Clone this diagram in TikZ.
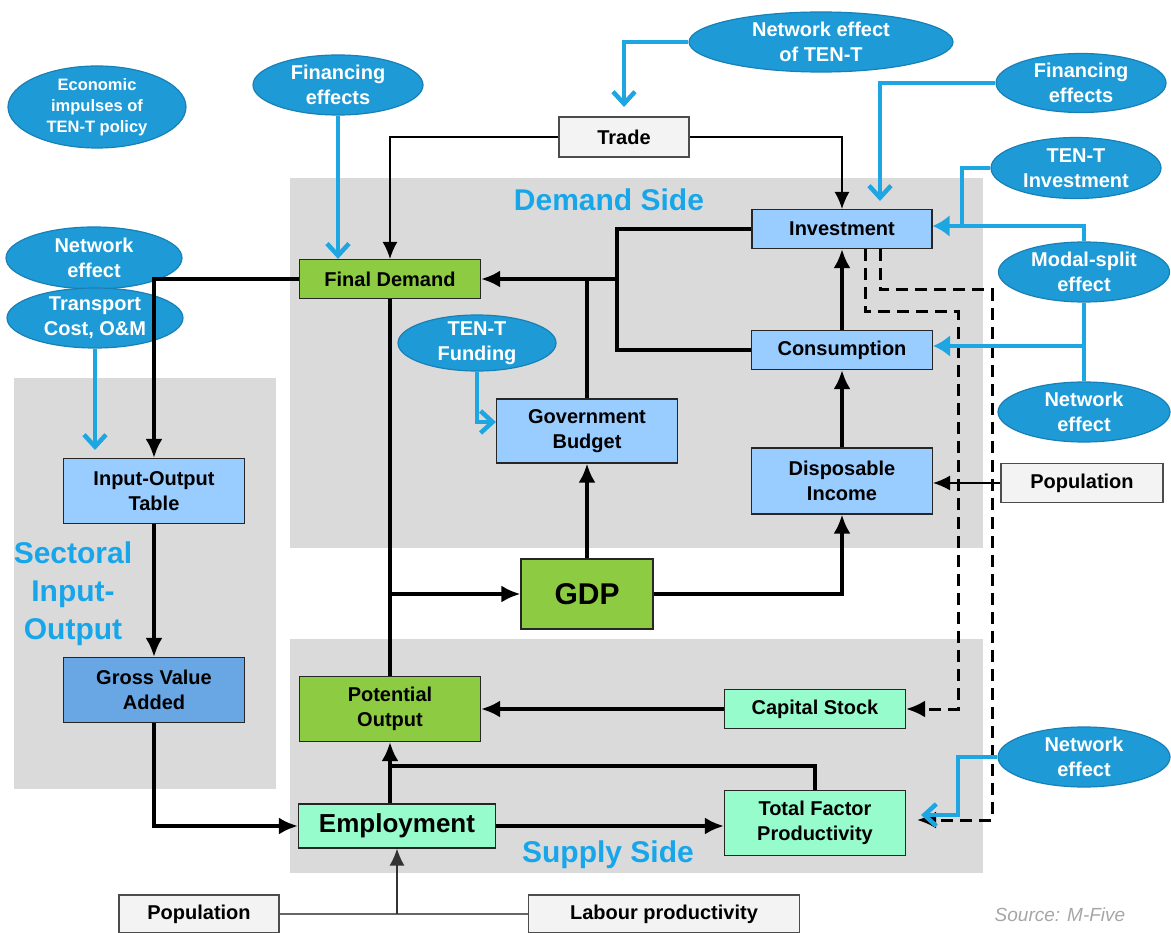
\documentclass[tikz,border=0pt]{standalone}
\usepackage{fontspec}
\setmainfont{Liberation Sans}
\usetikzlibrary{shapes.geometric,arrows.meta}

\definecolor{panelgray}{RGB}{218,218,218}
\definecolor{effblue}{RGB}{30,155,214}
\definecolor{effedge}{RGB}{24,128,182}
\definecolor{impblue}{RGB}{30,166,226}
\definecolor{sidetext}{RGB}{24,166,234}
\definecolor{demgreen}{RGB}{141,203,66}
\definecolor{lightblue}{RGB}{153,204,255}
\definecolor{midblue}{RGB}{104,166,228}
\definecolor{mint}{RGB}{150,252,204}
\definecolor{extgray}{RGB}{243,243,243}

\newcommand\diagfont{\bfseries\fontsize{20}{25}\selectfont}

\tikzset{
  box/.style={draw=black!85, line width=1.2pt, inner sep=0pt, align=center,
    minimum width=181pt, minimum height=39pt, font=\diagfont},
  tall/.style={minimum height=65pt},
  demandbox/.style={box, fill=lightblue},
  outputbox/.style={box, fill=demgreen},
  supplybox/.style={box, fill=mint},
  extbox/.style={box, fill=extgray, draw=black!70},
  effect/.style={ellipse, fill=effblue, draw=effedge, line width=1.2pt, inner sep=0pt,
    inner ysep=-3pt, text=white, align=center, font=\diagfont},
  sidelabel/.style={text=sidetext, font=\bfseries\fontsize{30}{38}\selectfont, align=center},
  link/.style={line width=3.5pt},
  flow/.style={link, -{Latex[length=19pt,width=17pt]}},
  thinflow/.style={line width=1.5pt, -{Latex[length=17pt,width=15pt]}},
  dashflow/.style={flow, line width=3pt, dash pattern=on 12pt off 7pt},
  bluelink/.style={impblue, line width=4.5pt},
  impulse/.style={bluelink, -{Straight Barb[length=12pt,width=22pt]}},
  push/.style={bluelink, -{Latex[length=17pt,width=22pt]}},
}

\begin{document}
\begin{tikzpicture}[x=1pt,y=-1pt]
\useasboundingbox (0,0) rectangle (1171,933);

% panels
\fill[panelgray] (14,378) rectangle (276,789);
\fill[panelgray] (290,178) rectangle (983,548);
\fill[panelgray] (290,639) rectangle (983,873);
\node[sidelabel, anchor=base] (dside) at (609,211) {Demand Side};
\node[sidelabel, anchor=base] (sside) at (608,862) {Supply Side};
\node[sidelabel] (sio) at (73,594) {Sectoral\\Input-\\Output};
\node[text=black!35, font=\itshape\fontsize{19}{22}\selectfont, anchor=base] (src) at (1060,921) {Source: M-Five};

% model blocks
\node[extbox, minimum width=130pt, minimum height=40pt] (trade) at (624,137) {Trade};
\node[outputbox] (fdem) at (390,279) {Final Demand};
\node[demandbox, minimum width=180pt] (inv) at (842,229) {Investment};
\node[demandbox] (cons) at (842,350) {Consumption};
\node[demandbox, minimum height=66pt] (dinc) at (842,481) {Disposable\\Income};
\node[demandbox, minimum height=64pt] (gov) at (587,431) {Government\\Budget};
\node[outputbox, minimum width=132pt, minimum height=70pt, font=\bfseries\fontsize{30}{36}\selectfont] (gdp) at (587,594) {GDP};
\node[outputbox, tall] (pot) at (390,709) {Potential\\Output};
\node[supplybox] (cap) at (815,709) {Capital Stock};
\node[supplybox, tall] (tfp) at (815,823) {Total Factor\\Productivity};
\node[supplybox, minimum width=197pt, minimum height=44pt, font=\bfseries\fontsize{26}{30}\selectfont] (emp) at (397,826) {Employment};
\node[demandbox, tall] (iot) at (154,491) {Input-Output\\Table};
\node[box, fill=midblue, tall] (gva) at (154,690) {Gross Value\\Added};
\node[extbox, minimum width=162pt] (popr) at (1082,483) {Population};
\node[extbox, minimum width=160pt, minimum height=38pt] (popb) at (199,914) {Population};
\node[extbox, minimum width=271pt, minimum height=38pt] (labp) at (664,914) {Labour productivity};

% impulses
\node[effect, minimum width=178pt, minimum height=82pt, font=\bfseries\fontsize{16.5}{21}\selectfont] (econ) at (97,107) {Economic\\impulses of\\TEN-T policy};
\node[effect, minimum width=170pt, minimum height=60pt] (finl) at (338,85) {Financing\\effects};
\node[effect, minimum width=264pt, minimum height=60pt] (tenet) at (821,42) {Network effect\\of TEN-T};
\node[effect, minimum width=170pt, minimum height=59pt] (finr) at (1081,83) {Financing\\effects};
\node[effect, minimum width=170pt, minimum height=61pt] (teninv) at (1076,168) {TEN-T\\Investment};
\node[effect, minimum width=171pt, minimum height=60pt] (modal) at (1084,272) {Modal-split\\effect};
\node[effect, minimum width=172pt, minimum height=60pt] (netc) at (1084,412) {Network\\effect};
\node[effect, minimum width=172pt, minimum height=60pt] (nettfp) at (1084,757) {Network\\effect};
\node[effect, minimum width=176pt, minimum height=62pt] (netio) at (94,258) {Network\\effect};
\node[effect, minimum width=176pt, minimum height=60pt] (trans) at (95,318) {Transport\\Cost, O\&M};
\node[effect, minimum width=158pt, minimum height=56pt] (fund) at (477,343) {TEN-T\\Funding};

% demand side
\coordinate (jdem) at (617,279);
\draw[link] (inv.west) -| (jdem) |- (cons.west);
\draw[flow] (jdem) -- (fdem.east);
\draw[link] (gov.north) -- (gov.north |- fdem.east);
\draw[flow] (gdp.north) -- (gov.south);
\draw[flow] (gdp.east) -| (dinc.south);
\draw[flow] (dinc.north) -- (cons.south);
\draw[flow] (cons.north) -- (inv.south);
\draw[link] (fdem.south) -- (pot.north);
\draw[flow] (fdem.south |- gdp.west) -- (gdp.west);
\draw[flow] (fdem.west) -| (iot.north);

% supply side
\coordinate (jpot) at (390,766);
\draw[flow] (cap.west) -- (pot.east);
\draw[link] (tfp.north) |- (jpot);
\draw[flow] (pot.south |- emp.north) -- (pot.south);
\draw[flow] (emp.east) -- (emp.east -| tfp.west);
\draw[flow] (iot.south) -- (gva.north);
\draw[flow] (gva.south) |- (emp.west);

% exogenous inputs
\draw[thinflow] (trade.west) -| (fdem.north);
\draw[thinflow] (trade.east) -| (inv.north);
\draw[thinflow] (popr.west) -- (popr.west -| dinc.east);
\draw[line width=1.5pt, black!60] (popb.east) -- (labp.west);
\draw[thinflow, black!80] (popb.east -| emp.south) -- (emp.south);

% investment feeds capital and productivity
\coordinate (tfpdash) at (917,820);
\draw[dashflow] ([xshift=23pt]inv.south) |- (958,312) |- (cap.east);
\draw[dashflow] ([xshift=38pt]inv.south) |- (992,290) |- (tfpdash);

% TEN-T impulses
\coordinate (tradeblue) at (624,107);
\coordinate (invblue) at (880,201);
\coordinate (jinv) at (962,226);
\coordinate (jcons) at (1084,346);
\coordinate (tfpblue) at (921,815);
\coordinate (iotblue) at (95,450);
\draw[impulse] (finl.south) -- (finl.south |- fdem.north);
\draw[impulse] (tenet.west) -| (tradeblue);
\draw[impulse] (finr.west) -| (invblue);
\draw[push] (teninv.west) -| (jinv) -- (jinv -| inv.east);
\draw[bluelink] (modal.north) |- (jinv);
\draw[push] (modal.south) -- (jcons) -- (jcons -| cons.east);
\draw[bluelink] (netc.north) -- (jcons);
\draw[impulse] (nettfp.west) -| (958,815) -- (tfpblue);
\draw[impulse] (trans.south) -- (iotblue);
\draw[impulse] (fund.south) |- ([yshift=9pt]gov.west);
\end{tikzpicture}
\end{document}
